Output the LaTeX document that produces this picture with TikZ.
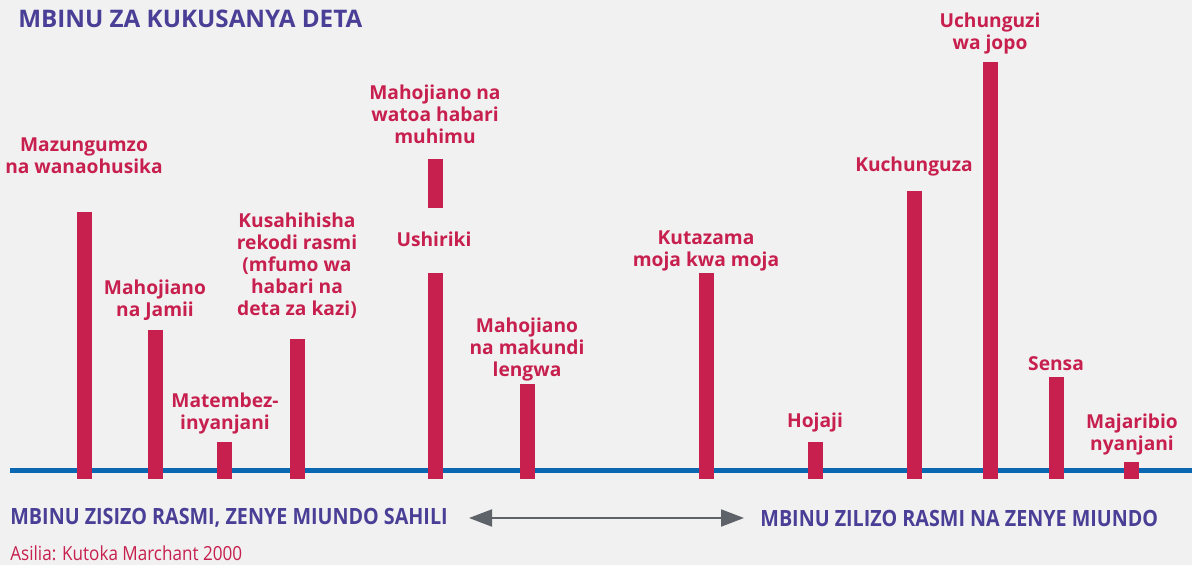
\documentclass[tikz,border=0pt]{standalone}
\usepackage{fontspec}
\setmainfont{Open Sans}
\newfontfamily\condfont{Open Sans}[FakeStretch=0.88]
\usetikzlibrary{arrows.meta}

\definecolor{bggray}{HTML}{F1F1F1}
\definecolor{crimson}{HTML}{C71F4E}
\definecolor{indigo}{HTML}{4A3F96}
\definecolor{lineblue}{HTML}{0A67B1}
\definecolor{arrowgray}{HTML}{5E636A}

\begin{document}
\begin{tikzpicture}[
        x=0.5pt, y=-0.5pt,
        lbl/.style={text=crimson, align=center, inner sep=0pt, anchor=north,
            font={\fontsize{9.6}{11}\selectfont\bfseries}},
        bar/.style={fill=crimson},
        heading/.style={text=indigo, inner sep=0pt, anchor=west,
            font={\fontsize{12.1}{14}\selectfont\bfseries}},
        endlbl/.style={text=indigo, inner sep=0pt, anchor=west,
            font={\condfont\fontsize{11.2}{13}\selectfont\bfseries}},
        src/.style={text=crimson, inner sep=0pt, anchor=west,
            font={\condfont\fontsize{9.7}{11}\selectfont}},
        ar/.style={{Triangle[length=11.5pt, width=8.5pt]}-{Triangle[length=11.5pt, width=8.5pt]},
            draw=arrowgray, line width=1pt},
    ]

    \fill[bggray] (0,0) rectangle (1192,565);
    \useasboundingbox (0,0) rectangle (1192,565);

    \node[heading](title) at (18,19) {MBINU ZA KUKUSANYA DETA};

    % baseline
    \draw[lineblue, line width=2.5pt] (10,471) -- (1192,471);

    % bars
    \fill[bar] (77,212) rectangle (92,479);
    \fill[bar] (148,330) rectangle (163,479);
    \fill[bar] (217,442) rectangle (232,479);
    \fill[bar] (290,339) rectangle (305,479);
    \fill[bar] (428,159) rectangle (443,208);
    \fill[bar] (428,273) rectangle (443,479);
    \fill[bar] (520,384) rectangle (535,479);
    \fill[bar] (699,273) rectangle (714,479);
    \fill[bar] (808,442) rectangle (823,479);
    \fill[bar] (907,191) rectangle (922,479);
    \fill[bar] (983,62) rectangle (998,479);
    \fill[bar] (1049,377) rectangle (1064,479);
    \fill[bar] (1124,462) rectangle (1139,479);

    % labels
    \node[lbl](mazungumzo) at (84,137) {Mazungumzo\\na wanaohusika};
    \node[lbl](jamii) at (155,280) {Mahojiano\\na Jamii};
    \node[lbl](matembezi) at (225,393) {Matembez-\\inyanjani};
    \node[lbl](rekodi) at (297,213) {Kusahihisha\\rekodi rasmi\\(mfumo wa\\habari na\\deta za kazi)};
    \node[lbl](watoa) at (435,85) {Mahojiano na\\watoa habari\\muhimu};
    \node[lbl](ushiriki) at (434,232) {Ushiriki};
    \node[lbl](makundi) at (527,318) {Mahojiano\\na makundi\\lengwa};
    \node[lbl](kutazama) at (706,230) {Kutazama\\moja kwa moja};
    \node[lbl](hojaji) at (815,413) {Hojaji};
    \node[lbl](kuchunguza) at (914,157) {Kuchunguza};
    \node[lbl](jopo) at (990,13) {Uchunguzi\\wa jopo};
    \node[lbl](sensa) at (1056,356) {Sensa};
    \node[lbl](majaribio) at (1132,414) {Majaribio\\nyanjani};

    % scale of methods
    \node[endlbl](rasmiL) at (10,518) {MBINU ZISIZO RASMI, ZENYE MIUNDO SAHILI};
    \node[endlbl](rasmiR) at (760,518) {MBINU ZILIZO RASMI NA ZENYE MIUNDO};
    \coordinate (arrL) at (469,518);
    \coordinate (arrR) at (744,518);
    \draw[ar] (arrL) -- (arrR);

    \node[src](asilia) at (10,553) {Asilia: Kutoka Marchant 2000};
\end{tikzpicture}
\end{document}
